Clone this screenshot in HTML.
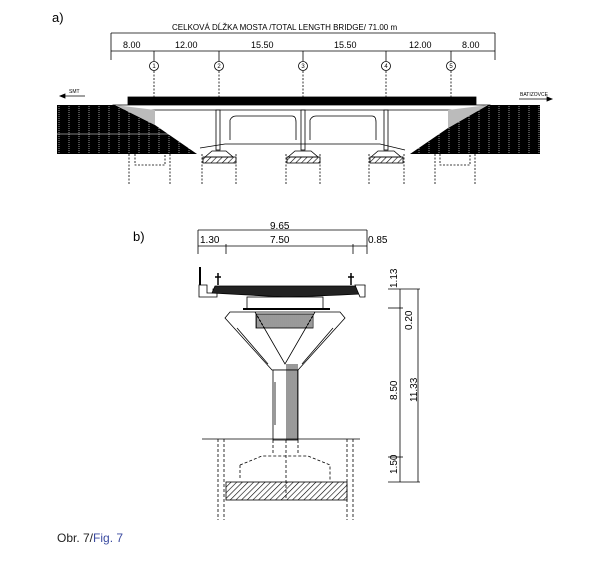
<!DOCTYPE html>
<html><head><style>
html,body{margin:0;padding:0;background:#fff;}
svg{display:block;}
text{font-family:"Liberation Sans",sans-serif;}
</style></head><body>
<svg width="600" height="565" viewBox="0 0 600 565" xmlns="http://www.w3.org/2000/svg">
<defs>
<pattern id="hat" width="4" height="4" patternUnits="userSpaceOnUse" patternTransform="rotate(45)">
<line x1="0" y1="0" x2="0" y2="4" stroke="#000" stroke-width="1.2"/></pattern>
<pattern id="emb" width="10" height="12" patternUnits="userSpaceOnUse">
<rect width="10" height="12" fill="#000"/><line x1="9" y1="0" x2="9" y2="12" stroke="#fff" stroke-width="0.6" stroke-dasharray="1 1"/></pattern>
<pattern id="vl" width="2" height="4" patternUnits="userSpaceOnUse"><line x1="1" y1="0" x2="1" y2="4" stroke="#000" stroke-width="0.8"/></pattern>
</defs>
<g stroke="#000" fill="none" stroke-width="0.8">
<text x="52" y="22" font-size="13" fill="#000" stroke="none">a)</text>
<text x="172" y="30" font-size="8" fill="#000" stroke="none">CELKOVÁ DĹŽKA MOSTA /TOTAL LENGTH BRIDGE/   71.00 m</text>
<line x1="111" y1="33" x2="495" y2="33"/>
<line x1="111" y1="33" x2="111" y2="60"/><line x1="495" y1="33" x2="495" y2="60"/>
<line x1="111" y1="51" x2="495" y2="51"/>
<g font-size="9" fill="#000" stroke="none">
<text x="123" y="48">8.00</text><text x="175" y="48">12.00</text><text x="251" y="48">15.50</text>
<text x="334" y="48">15.50</text><text x="409" y="48">12.00</text><text x="462" y="48">8.00</text>
</g>
<g>
<line x1="154" y1="51" x2="154" y2="61"/><line x1="219" y1="51" x2="219" y2="61"/><line x1="303" y1="51" x2="303" y2="61"/><line x1="386" y1="51" x2="386" y2="61"/><line x1="451" y1="51" x2="451" y2="61"/>
<circle cx="154" cy="66" r="4.5"/><circle cx="219" cy="66" r="4.5"/><circle cx="303" cy="66" r="4.5"/><circle cx="386" cy="66" r="4.5"/><circle cx="451" cy="66" r="4.5"/>
<g font-size="6" fill="#000" stroke="none" text-anchor="middle">
<text x="154" y="68.2">1</text><text x="219" y="68.2">2</text><text x="303" y="68.2">3</text><text x="386" y="68.2">4</text><text x="451" y="68.2">5</text>
</g>
<g stroke-dasharray="2 1.5"><line x1="154" y1="71" x2="154" y2="98"/><line x1="219" y1="71" x2="219" y2="98"/><line x1="303" y1="71" x2="303" y2="98"/><line x1="386" y1="71" x2="386" y2="98"/><line x1="451" y1="71" x2="451" y2="98"/></g>
</g>
<g font-size="5" fill="#000" stroke="none"><text x="69" y="93">SMT</text><text x="520" y="96">BATIZOVCE</text></g>
<line x1="60" y1="96" x2="85" y2="96"/><path d="M60 96 l5 -2 v4z" fill="#000"/>
<line x1="519" y1="99" x2="552" y2="99"/><path d="M552 99 l-5 -2 v4z" fill="#000"/>
<rect x="128" y="97" width="348" height="8" fill="#000"/>
<path d="M113 105 H490 L488 110 H115 Z" fill="#fff"/>
<path d="M57 105 H115 L155 125 L197 154 H57 Z" fill="url(#emb)" stroke="none"/>
<path d="M115 105 L155 125 V110 Z" fill="#bbb" stroke="none"/>
<path d="M540 105 H488 L448 128 L410 154 H540 Z" fill="url(#emb)" stroke="none"/>
<path d="M488 105 L448 128 V110 Z" fill="#bbb" stroke="none"/>
<line x1="57" y1="134" x2="170" y2="134" stroke="#fff" stroke-width="0.6"/>
<rect x="216" y="110" width="4" height="40" fill="#fff"/><rect x="301" y="110" width="4" height="40" fill="#fff"/><rect x="384" y="110" width="4" height="40" fill="#fff"/>
<path d="M230 140 V120 Q232 116 236 116 H292 Q296 116 296 122 V140"/>
<path d="M310 140 V120 Q312 116 316 116 H372 Q376 116 376 122 V140"/>
<path d="M200 148 L225 144 H380 L405 150"/>
<g fill="#fff"><path d="M205 157 L212 151 H226 L233 157Z"/><path d="M288 157 L295 151 H311 L318 157Z"/><path d="M371 157 L378 151 H394 L401 157Z"/></g>
<rect x="203" y="157" width="33" height="6" fill="url(#hat)"/><rect x="287" y="157" width="33" height="6" fill="url(#hat)"/><rect x="370" y="157" width="33" height="6" fill="url(#hat)"/>
<g stroke-dasharray="2 1.5">
<line x1="202" y1="154" x2="202" y2="185"/><line x1="236" y1="154" x2="236" y2="185"/>
<line x1="286" y1="154" x2="286" y2="185"/><line x1="320" y1="154" x2="320" y2="185"/>
<line x1="369" y1="154" x2="369" y2="185"/><line x1="404" y1="154" x2="404" y2="185"/>
<line x1="129" y1="154" x2="129" y2="185"/><line x1="170" y1="154" x2="170" y2="185"/>
<line x1="435" y1="154" x2="435" y2="185"/><line x1="475" y1="154" x2="475" y2="185"/>
<path d="M135 154 V165 H165 V154"/><path d="M440 154 V165 H470 V154"/>
</g>
<text x="133" y="241" font-size="13" fill="#000" stroke="none">b)</text>
<g font-size="10" fill="#000" stroke="none"><text x="270" y="229">9.65</text><text x="200" y="243">1.30</text><text x="270" y="243">7.50</text><text x="368" y="243">0.85</text></g>
<line x1="198" y1="230" x2="367" y2="230"/>
<line x1="198" y1="230" x2="198" y2="254"/><line x1="367" y1="230" x2="367" y2="254"/>
<line x1="198" y1="246" x2="367" y2="246"/><line x1="226" y1="244" x2="226" y2="254"/><line x1="353" y1="244" x2="353" y2="254"/>
<line x1="200" y1="267" x2="200" y2="285" stroke-width="2"/>
<path d="M199 285 h8 v8 h6 v-4 h4 v8 h-18z" fill="#fff"/>
<path d="M215 286 H365 L360 294 Q320 296 285 297 Q250 295 212 293 Z" fill="#222"/>
<path d="M355 285 h10 v12 h-5z" fill="#fff"/>
<path d="M218 285 v-12 M215 277 h6 M351 285 v-12 M348 277 h6" stroke-width="1.5"/>
<rect x="247" y="297" width="76" height="12" fill="#fff"/>
<line x1="243" y1="309" x2="330" y2="309" stroke-width="2"/>
<path d="M230 312 H340 L345 318 L298 370 H272 L225 318 Z" fill="#fff"/>
<path d="M255 312 L285 364 L315 312"/>
<rect x="256" y="314" width="57" height="14" fill="url(#vl)"/>
<line x1="237" y1="328" x2="268" y2="364"/><line x1="333" y1="328" x2="302" y2="364"/>
<rect x="273" y="370" width="25" height="70" fill="#fff"/>
<rect x="286" y="364" width="12" height="76" fill="url(#vl)" stroke="none"/>
<line x1="275" y1="382" x2="275" y2="425"/>
<line x1="202" y1="439" x2="360" y2="439"/>
<g stroke-dasharray="3 2">
<line x1="273" y1="440" x2="273" y2="455"/><line x1="298" y1="440" x2="298" y2="455"/><line x1="286" y1="440" x2="286" y2="500"/>
<path d="M240 465 L262 456 H308 L330 465 V480 M240 465 V480"/>
<line x1="218" y1="439" x2="218" y2="520"/><line x1="224" y1="439" x2="224" y2="520"/>
<line x1="347" y1="439" x2="347" y2="520"/><line x1="353" y1="439" x2="353" y2="520"/>
</g>
<rect x="226" y="482" width="121" height="18" fill="url(#hat)"/>
<line x1="388" y1="289" x2="420" y2="289"/><line x1="400" y1="289" x2="400" y2="482"/><line x1="418" y1="289" x2="418" y2="482"/>
<line x1="388" y1="308" x2="403" y2="308"/><line x1="388" y1="457" x2="403" y2="457"/><line x1="388" y1="482" x2="420" y2="482"/>
<g font-size="10" fill="#000" stroke="none">
<text transform="translate(397,288) rotate(-90)">1.13</text>
<text transform="translate(412,330) rotate(-90)">0.20</text>
<text transform="translate(397,400) rotate(-90)">8.50</text>
<text transform="translate(417,402) rotate(-90)">11.33</text>
<text transform="translate(397,474) rotate(-90)">1.50</text>
</g>
<text x="57" y="542" font-size="12" stroke="none" fill="#333"><tspan fill="#222">Obr. 7/</tspan><tspan fill="#3a4aa0">Fig. 7</tspan></text>
</g>
</svg>
</body></html>
